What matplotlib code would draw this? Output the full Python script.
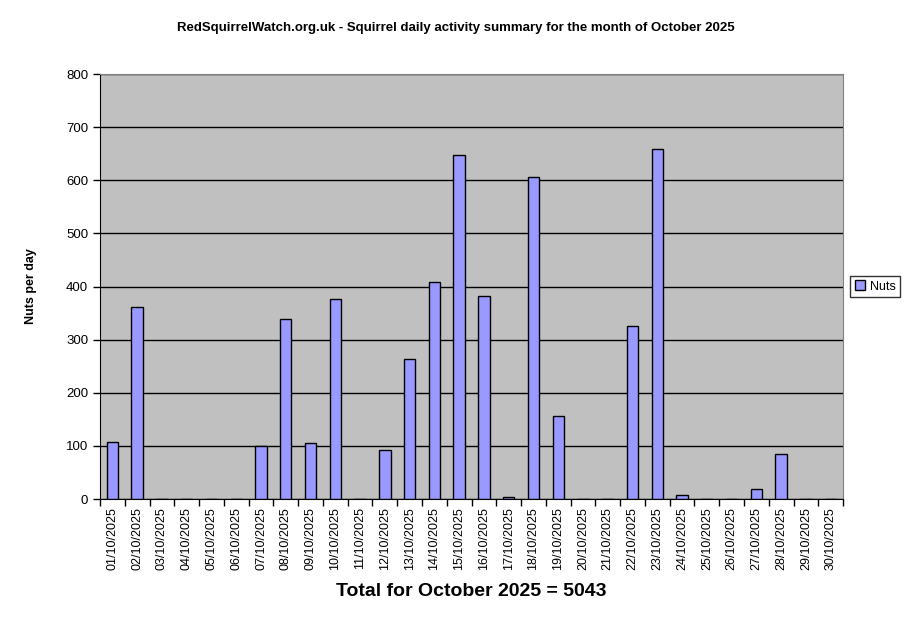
import matplotlib.pyplot as plt
import numpy as np

plt.rcParams['font.family'] = ['Liberation Sans', 'DejaVu Sans']

# daily nut counts for October 2025
days = [f'{d:02d}/10/2025' for d in range(1, 31)]
nuts = [108, 361, 0, 0, 0, 0, 100, 339, 105, 376,
        0, 92, 263, 408, 648, 382, 4, 607, 156, 0,
        0, 325, 658, 7, 0, 0, 19, 85, 0, 0]
total = 5043

fig = plt.figure(figsize=(9.11, 6.23), dpi=100)
ax = fig.add_axes([0.1098, 0.199, 0.8156, 0.6822])
ax.set_facecolor('#C0C0C0')

x = np.arange(len(days))
ax.bar(x, nuts, width=0.46, color='#9999FF', edgecolor='black', linewidth=1,
       label='Nuts', zorder=3)

ax.set_ylim(0, 800)
ax.set_yticks(np.arange(0, 801, 100))
ax.yaxis.grid(True, color='black', linewidth=1, zorder=1)
ax.set_xlim(-0.5, len(days) - 0.5)
ax.set_xticks(x)
ax.set_xticklabels(days, rotation=90, fontsize=9)
ax.set_xticks(np.arange(-0.5, len(days), 1), minor=True)
ax.tick_params(axis='x', which='major', length=0, pad=6)
ax.tick_params(axis='x', which='minor', length=5, width=1, direction='out')
ax.tick_params(axis='y', length=5, width=1, direction='out', labelsize=9.5)

for s in ['top', 'right']:
    ax.spines[s].set_color('#808080')
for s in ['left', 'bottom']:
    ax.spines[s].set_color('black')

fig.text(0.5, 0.955, 'RedSquirrelWatch.org.uk - Squirrel daily activity summary for the month of October 2025',
         ha='center', va='center', fontsize=9.5, fontweight='bold')
ax.set_ylabel('Nuts per day', fontsize=9, fontweight='bold')
ax.yaxis.set_label_coords(-0.085, 0.5)
ax.set_xlabel(f'Total for October 2025 = {total}', fontsize=14, fontweight='bold', labelpad=9)

leg = ax.legend(loc='center left', bbox_to_anchor=(1.01, 0.5), fontsize=9,
                frameon=True, fancybox=False, edgecolor='black', handlelength=0.8,
                handleheight=0.8, handletextpad=0.4, borderpad=0.35, borderaxespad=0)
leg.get_frame().set_linewidth(1)

fig.savefig('out.png', dpi=100)
